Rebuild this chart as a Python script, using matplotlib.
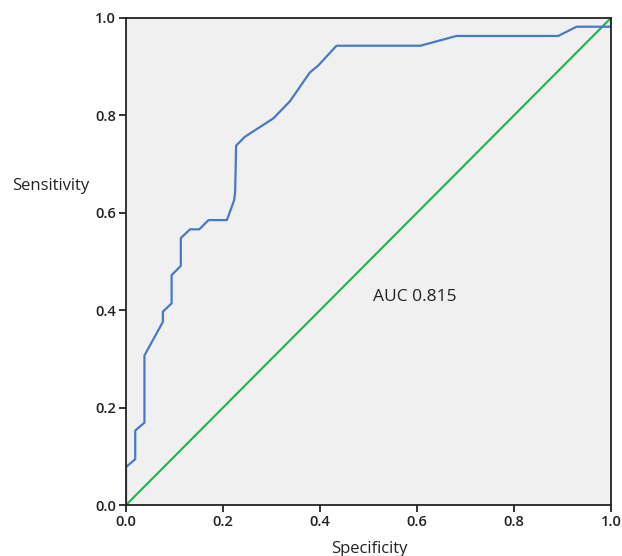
import matplotlib
matplotlib.use("Agg")
import matplotlib.pyplot as plt

plt.rcParams["font.family"] = ["Open Sans", "DejaVu Sans"]

# ROC curve (x = 1 - specificity, y = sensitivity)
roc_x = [0, 0, 0.019, 0.019, 0.038, 0.038, 0.076, 0.076, 0.094, 0.094, 0.113, 0.113,
         0.132, 0.151, 0.170, 0.208, 0.223, 0.225, 0.227, 0.245, 0.304, 0.338, 0.379,
         0.397, 0.434, 0.607, 0.681, 0.891, 0.929, 1.0, 1.0]
roc_y = [0, 0.078, 0.094, 0.153, 0.169, 0.307, 0.376, 0.397, 0.414, 0.472, 0.491, 0.548,
         0.566, 0.566, 0.585, 0.585, 0.626, 0.643, 0.738, 0.756, 0.794, 0.829, 0.888,
         0.903, 0.943, 0.943, 0.963, 0.963, 0.982, 0.982, 1.0]
ref_x = [0, 1]
ref_y = [0, 1]
ticks = [0.0, 0.2, 0.4, 0.6, 0.8, 1.0]
auc_text = "AUC 0.815"

fig = plt.figure(figsize=(6.22, 5.56), dpi=100)
ax = fig.add_axes([0.2026, 0.0917, 0.7797, 0.876])
ax.set_facecolor("#f0f0f0")

ax.plot(ref_x, ref_y, color="#22b24c", lw=1.5)
ax.plot(roc_x, roc_y, color="#4a78c8", lw=1.6)

ax.set_xlim(0, 1)
ax.set_ylim(0, 1)
ax.set_xticks(ticks)
ax.set_yticks(ticks)
ax.set_xticklabels([f"{t:.1f}" for t in ticks])
ax.set_yticklabels([f"{t:.1f}" for t in ticks])
ax.tick_params(direction="out", length=5, width=1.3, labelsize=10.5, colors="#222222", pad=2)
for lbl in ax.get_xticklabels() + ax.get_yticklabels():
    lbl.set_fontweight("semibold")
for s in ax.spines.values():
    s.set_linewidth(1.3)
    s.set_color("#222222")

ax.text(0.509, 0.427, auc_text, fontsize=12.5, color="#222222", va="center", ha="left")

fig.text(12 / 622, 1 - 186 / 556, "Sensitivity", fontsize=12, color="#222222",
         va="center", ha="left")
fig.text(369 / 622, 1 - 549 / 556, "Specificity", fontsize=12, color="#222222",
         va="center", ha="center")

fig.savefig("out.png", dpi=100)
